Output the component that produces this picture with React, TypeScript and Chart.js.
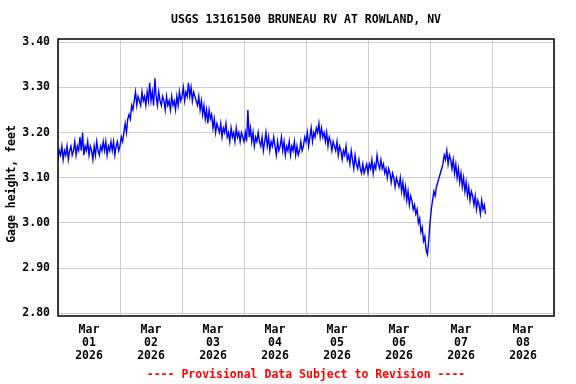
import { useEffect, useRef } from 'react';
import { Chart, registerables } from 'chart.js';

Chart.register(...registerables);

const chartTitle = 'USGS 13161500 BRUNEAU RV AT ROWLAND, NV';
const yAxisTitle = 'Gage height, feet';
const footerNote = '---- Provisional Data Subject to Revision ----';
const monthLabel = 'Mar';
const yearLabel = '2026';
const dayLabels = ['01', '02', '03', '04', '05', '06', '07', '08'];
const yTickValues = [2.8, 2.9, 3.0, 3.1, 3.2, 3.3, 3.4];
const yMin = 2.794;
const yMax = 3.407;
const xDays = 8;
const readingsPerDay = 48; // one reading every 30 minutes

// Gage height in hundredths of a foot, starting Mar 01 00:00, every 30 min
const mar01 = [
  314, 316, 315, 317, 314, 316, 315, 317, 314, 316, 317, 315,
  316, 318, 315, 317, 316, 319, 316, 320, 315, 317, 316, 318,
  315, 317, 316, 314, 317, 315, 318, 316, 315, 317, 316, 318,
  316, 318, 315, 317, 316, 318, 316, 318, 315, 317, 318, 316,
];
const mar02 = [
  317, 319, 318, 320, 322, 320, 323, 324,
  323, 326, 325, 327, 329, 326, 328, 327,
  326, 329, 327, 328, 326, 329, 327, 331, 327, 329, 326, 332,
  328, 326, 329, 327, 326, 328, 327, 325, 328, 326, 327, 325,
  328, 326, 327, 325, 328, 326, 329, 327,
];
const mar03 = [
  328, 330, 327, 329, 328, 331, 328, 330, 327, 329, 328, 327,
  326, 328, 325, 327, 324, 326, 323, 325, 322, 325, 323, 324,
  321, 323, 320, 322, 321, 320, 322, 319, 321, 320, 322, 319,
  320, 318, 321, 319, 320, 318, 321, 319, 320, 318, 320, 319,
];
const mar04 = [
  318, 320, 318, 325, 319, 321, 318, 320, 317, 319, 318, 320,
  318, 317, 319, 316, 318, 320, 317, 319, 316, 318, 317, 319,
  317, 315, 318, 316, 317, 319, 316, 318, 315, 317, 316, 318,
  315, 317, 316, 318, 315, 317, 315, 316, 318, 316, 317, 319,
];
const mar05 = [
  318, 320, 317, 319, 321, 318, 320, 319, 321, 320, 322, 319,
  321, 319, 320, 318, 320, 317, 319, 318, 316, 318, 317, 316,
  318, 315, 317, 316, 314, 316, 315, 317, 314, 315, 313, 316,
  314, 312, 315, 313, 312, 314, 312, 311, 313, 311, 312, 313,
];
const mar06 = [
  311, 313, 312, 314, 311, 313, 312, 315, 313, 312, 314, 312,
  313, 311, 312, 310, 312, 311, 309, 311, 310, 308, 310, 309,
  308, 310, 307, 309, 306, 308, 305, 307, 304, 306, 305, 303,
  304, 302, 303, 300, 301, 298, 299, 296, 297, 294, 293, 296,
];
const mar07 = [
  300, 303, 305, 307, 306, 308, 309, 310, 311, 312, 313, 315,
  314, 316, 313, 315, 314, 312, 314, 311, 313, 310, 312, 309,
  311, 308, 310, 307, 309, 306, 308, 305, 307, 306, 304, 306,
  303, 305, 304, 302, 305, 303, 304, 302,
];

const FONT_FAMILY = '"DejaVu Sans Mono", "Liberation Mono", monospace';
const FONT_SIZE = 11.5;

const framePlugin = {
  id: 'usgsFrame',
  afterDraw(chart: any) {
    const { ctx, chartArea: a } = chart;
    ctx.save();
    ctx.strokeStyle = '#000000';
    ctx.lineWidth = 1.5;
    ctx.strokeRect(a.left, a.top, a.right - a.left, a.bottom - a.top);
    ctx.font = `bold ${FONT_SIZE}px ${FONT_FAMILY}`;
    ctx.textAlign = 'center';
    ctx.textBaseline = 'middle';
    const cx = (a.left + a.right) / 2;
    ctx.fillStyle = '#000000';
    ctx.fillText(chartTitle, cx, 20);
    ctx.fillStyle = '#ff0000';
    ctx.fillText(footerNote, cx, 375);
    ctx.fillStyle = '#000000';
    ctx.translate(12, 184);
    ctx.rotate(-Math.PI / 2);
    ctx.fillText(yAxisTitle, 0, 0);
    ctx.restore();
  },
};

export default function App() {
  const canvasRef = useRef<HTMLCanvasElement | null>(null);

  useEffect(() => {
    if (!canvasRef.current) return;
    const readings = [...mar01, ...mar02, ...mar03, ...mar04, ...mar05, ...mar06, ...mar07];
    const points = readings.map((v, i) => ({ x: i / readingsPerDay, y: v / 100 }));

    const chart = new Chart(canvasRef.current, {
      type: 'line',
      data: {
        datasets: [
          {
            data: points,
            borderColor: '#0000ff',
            borderWidth: 1.4,
            pointRadius: 0,
            tension: 0,
            fill: false,
          },
        ],
      },
      options: {
        animation: false,
        responsive: false,
        devicePixelRatio: 1,
        parsing: false,
        normalized: true,
        layout: { padding: { top: 39, right: 22, left: 0, bottom: 0 } },
        plugins: {
          legend: { display: false },
          tooltip: { enabled: false },
          title: { display: false },
        },
        scales: {
          x: {
            type: 'linear',
            min: 0,
            max: xDays,
            afterFit(scale: any) {
              scale.height = 68;
            },
            afterBuildTicks(scale: any) {
              const t = [];
              for (let d = 0; d <= xDays * 2; d++) t.push({ value: d / 2 });
              scale.ticks = t;
            },
            border: { display: false },
            grid: {
              drawTicks: false,
              lineWidth: 1,
              color: (ctx: any) =>
                ctx.tick && ctx.tick.value % 1 === 0 ? '#cccccc' : 'rgba(0,0,0,0)',
            },
            ticks: {
              autoSkip: false,
              maxRotation: 0,
              minRotation: 0,
              padding: 8,
              color: '#000000',
              font: { family: FONT_FAMILY, size: FONT_SIZE, weight: 'bold', lineHeight: 1.1 },
              callback: (value: any) => {
                const v = Number(value);
                if (Math.abs((v % 1) - 0.5) < 1e-6) {
                  return [monthLabel, dayLabels[Math.floor(v)], yearLabel];
                }
                return '';
              },
            },
          },
          y: {
            type: 'linear',
            min: yMin,
            max: yMax,
            afterFit(scale: any) {
              scale.width = 58;
            },
            afterBuildTicks(scale: any) {
              scale.ticks = yTickValues.map((v) => ({ value: v }));
            },
            border: { display: false },
            grid: { drawTicks: false, color: '#cccccc', lineWidth: 1 },
            ticks: {
              padding: 8,
              color: '#000000',
              font: { family: FONT_FAMILY, size: FONT_SIZE, weight: 'bold' },
              callback: (value: any) => Number(value).toFixed(2),
            },
          },
        },
      },
      plugins: [framePlugin],
    } as any);

    return () => chart.destroy();
  }, []);

  return (
    <div style={{ position: 'absolute', left: 0, top: 0, width: 576, height: 384, background: '#ffffff' }}>
      <canvas ref={canvasRef} width={576} height={384} style={{ width: 576, height: 384 }} />
    </div>
  );
}
